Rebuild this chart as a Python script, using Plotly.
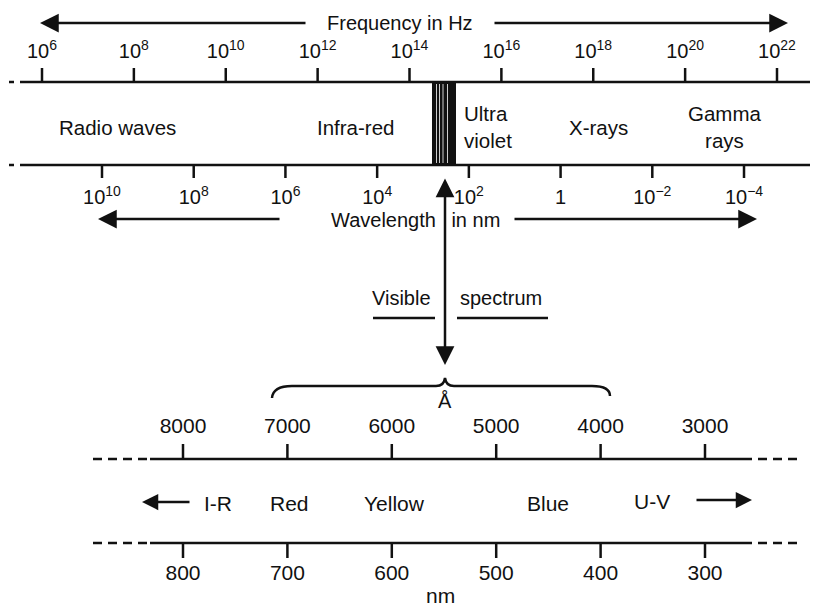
import plotly.graph_objects as go

# ---------------- data ----------------
freq_exponents = [6, 8, 10, 12, 14, 16, 18, 20, 22]
wave_exponents = [10, 8, 6, 4, 2, 0, -2, -4]
angstrom_ticks = [8000, 7000, 6000, 5000, 4000, 3000]
nm_ticks = [800, 700, 600, 500, 400, 300]
band_names = ["Radio waves", "Infra-red", "Ultra<br>violet", "X-rays", "Gamma<br>rays"]
visible_names = ["I-R", "Red", "Yellow", "Blue", "U-V"]

FONT = "Liberation Sans, Arial, Helvetica, sans-serif"
INK = "#111111"

fig = go.Figure()

def sup_label(e):
    if e == 0:
        return "1"
    s = str(e).replace("-", "\u2212")
    return "10<sup>" + s + "</sup>"

def tick_xy(vals, y0, y1):
    xs, ys = [], []
    for v in vals:
        xs += [v, v, None]
        ys += [y0, y1, None]
    return xs, ys

# frequency ticks (log axis x2)
fv = [10.0 ** e for e in freq_exponents]
xs, ys = tick_xy(fv, 68, 82)
fig.add_trace(go.Scatter(x=xs, y=ys, xaxis="x2", yaxis="y", mode="lines",
                         line=dict(color=INK, width=2.5), hoverinfo="skip"))
fig.add_trace(go.Scatter(x=fv, y=[53] * len(fv), xaxis="x2", yaxis="y", mode="text",
                         text=[sup_label(e) for e in freq_exponents],
                         textfont=dict(family=FONT, size=20, color=INK), hoverinfo="skip"))

# wavelength ticks (reversed log axis x3)
wv = [10.0 ** e for e in wave_exponents]
xs, ys = tick_xy(wv, 165, 178)
fig.add_trace(go.Scatter(x=xs, y=ys, xaxis="x3", yaxis="y", mode="lines",
                         line=dict(color=INK, width=2.5), hoverinfo="skip"))
fig.add_trace(go.Scatter(x=wv, y=[199] * len(wv), xaxis="x3", yaxis="y", mode="text",
                         text=[sup_label(e) for e in wave_exponents],
                         textfont=dict(family=FONT, size=20, color=INK), hoverinfo="skip"))

# Angstrom ticks (x4)
xs, ys = tick_xy(angstrom_ticks, 444, 459)
fig.add_trace(go.Scatter(x=xs, y=ys, xaxis="x4", yaxis="y", mode="lines",
                         line=dict(color=INK, width=2.5), hoverinfo="skip"))
fig.add_trace(go.Scatter(x=angstrom_ticks, y=[428] * len(angstrom_ticks), xaxis="x4", yaxis="y",
                         mode="text", text=[str(v) for v in angstrom_ticks],
                         textfont=dict(family=FONT, size=21, color=INK), hoverinfo="skip"))

# nm ticks (x5)
xs, ys = tick_xy(nm_ticks, 543, 558)
fig.add_trace(go.Scatter(x=xs, y=ys, xaxis="x5", yaxis="y", mode="lines",
                         line=dict(color=INK, width=2.5), hoverinfo="skip"))
fig.add_trace(go.Scatter(x=nm_ticks, y=[575] * len(nm_ticks), xaxis="x5", yaxis="y",
                         mode="text", text=[str(v) for v in nm_ticks],
                         textfont=dict(family=FONT, size=21, color=INK), hoverinfo="skip"))

shapes = []
def hline(x0, x1, y, w=2.5, dash="solid"):
    shapes.append(dict(type="line", xref="x", yref="y", x0=x0, x1=x1, y0=y, y1=y,
                       line=dict(color=INK, width=w, dash=dash)))

# top spectrum band lines
for y in (82, 165):
    hline(9, 14, y)
    hline(20, 810, y)
    hline(815, 819, y)
# visible band block
shapes.append(dict(type="rect", xref="x", yref="y", x0=432, x1=456, y0=82, y1=165,
                   fillcolor=INK, line=dict(width=0)))
for xw in (436.5, 439.5, 443, 447.5):
    shapes.append(dict(type="line", xref="x", yref="y", x0=xw, x1=xw, y0=84, y1=163,
                       line=dict(color="white", width=0.8)))
# visible spectrum underlines
hline(373, 435, 318, 2.5)
hline(457, 548, 318, 2.5)
# brace
shapes.append(dict(type="path", xref="x", yref="y",
                   path="M 272,398 Q 273,386 292,386 L 436,386 Q 444,386 445,378 "
                        "Q 446,386 454,386 L 592,386 Q 610,386 610,396",
                   line=dict(color=INK, width=2.5)))
# lower scale lines
for y in (459, 543):
    hline(93, 150, y, 2.5, "9px,6px")
    hline(150, 743, y, 2.5)
    hline(743, 800, y, 2.5, "9px,6px")

annotations = []
def text(x, y, s, size=20, align="center", xanchor="center"):
    annotations.append(dict(x=x, y=y, xref="x", yref="y", text=s, showarrow=False,
                            font=dict(family=FONT, size=size, color=INK), align=align,
                            xanchor=xanchor, yanchor="middle"))

def arrow(x_tip, y_tip, x_tail, y_tail, w=2.5, head=2, size=1.5, side="end"):
    annotations.append(dict(x=x_tip, y=y_tip, ax=x_tail, ay=y_tail, xref="x", yref="y",
                            axref="x", ayref="y", text="", showarrow=True, arrowhead=head,
                            startarrowhead=head, arrowsize=size, startarrowsize=size,
                            arrowwidth=w, arrowcolor=INK, arrowside=side,
                            standoff=0, startstandoff=0))

text(400, 23, "Frequency in Hz")
arrow(40, 23, 307, 23)
arrow(788, 23, 493, 23)

text(415, 220, "Wavelength\u2002 in nm")
arrow(98, 219, 281, 219)
arrow(757, 219, 513, 219)

band_pos = [(117, 127, "center"), (355, 127, "center"), (462, 127, "left"),
            (598, 127, "center"), (725, 127, "center")]
for name, (bx, by, al) in zip(band_names, band_pos):
    text(bx, by, name, 20.5, align=al, xanchor="left" if al == "left" else "center")

arrow(445, 365, 445, 177, w=2.5, head=2, size=1.5, side="end+start")
text(401, 298, "Visible")
text(501, 298, "spectrum")
text(445, 401, "Å", 20)

vis_pos = [(218, 503), (289, 503), (394, 503), (548, 503), (652, 501)]
for name, (vx, vy) in zip(visible_names, vis_pos):
    text(vx, vy, name, 21)
arrow(142, 502, 191, 502, w=2.5, head=2, size=1.3)
arrow(752, 500, 695, 500, w=2.5, head=2, size=1.3)
annotations.append(dict(x=440, y=609, xref="x", yref="y", text="nm", showarrow=False,
                        font=dict(family=FONT, size=21, color=INK),
                        xanchor="center", yanchor="bottom"))

# The page body has an 8px margin; the figure is sized and ranged so that
# axis coordinates coincide with window pixels.
OFF = 8
fig.update_layout(
    width=820 - OFF, height=610 - OFF, margin=dict(l=0, r=0, t=0, b=0),
    paper_bgcolor="white", plot_bgcolor="white", showlegend=False,
    shapes=shapes, annotations=annotations,
    xaxis=dict(range=[OFF, 820], visible=False, fixedrange=True),
    yaxis=dict(range=[610, OFF], visible=False, fixedrange=True),
    xaxis2=dict(type="log", range=[5.2599, 22.936], overlaying="x", anchor="y", visible=False),
    xaxis3=dict(type="log", range=[12.0498, -5.657], overlaying="x", anchor="y", visible=False),
    xaxis4=dict(range=[9676.2, 1898.5], overlaying="x", anchor="y", visible=False),
    xaxis5=dict(range=[967.62, 189.85], overlaying="x", anchor="y", visible=False),
)

fig.write_html("out.html")
